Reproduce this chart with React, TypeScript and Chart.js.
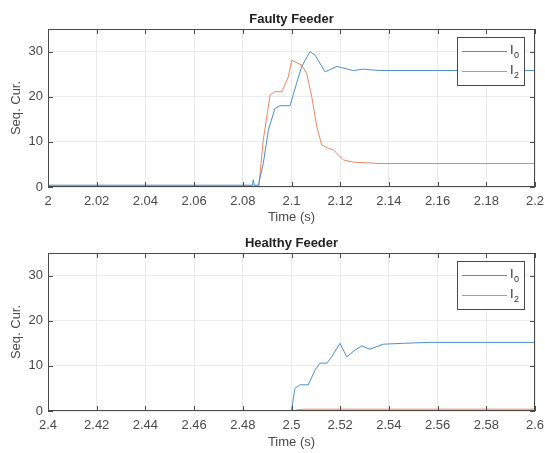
import React, { useEffect, useRef } from "react";
import { Chart, registerables } from "chart.js";
Chart.register(...registerables);

// ---------- data ----------
const faultyI0Time = [2.0, 2.084, 2.0843, 2.0847, 2.0864, 2.0884, 2.0905, 2.0932, 2.0953, 2.0994, 2.1021, 2.1042, 2.1076, 2.1097, 2.1138, 2.1186, 2.1254, 2.1295, 2.1364, 2.2];
const faultyI0 = [0.4, 0.4, 1.6, 0.4, 0.4, 5.2, 12.6, 17.4, 18.0, 18.0, 23.0, 26.7, 30.0, 29.2, 25.5, 26.7, 25.8, 26.1, 25.8, 25.8];
const faultyI2Time = [2.0, 2.0866, 2.0884, 2.0912, 2.0932, 2.096, 2.0987, 2.1001, 2.1042, 2.1062, 2.1083, 2.1104, 2.1124, 2.1151, 2.1172, 2.1213, 2.1254, 2.1364, 2.2];
const faultyI2 = [0.2, 0.2, 10.4, 20.4, 21.1, 21.1, 24.4, 28.1, 27.0, 25.2, 20.0, 13.4, 9.3, 8.6, 8.2, 6.0, 5.5, 5.2, 5.2];

const healthyI0Time = [2.4, 2.5, 2.5014, 2.5035, 2.5069, 2.5097, 2.5117, 2.5145, 2.5165, 2.5199, 2.5227, 2.5261, 2.5288, 2.5322, 2.5377, 2.5459, 2.5569, 2.6];
const healthyI0 = [0.1, 0.1, 5.0, 5.8, 5.8, 9.1, 10.6, 10.6, 12.0, 15.0, 12.0, 13.5, 14.4, 13.7, 14.8, 15.0, 15.2, 15.2];
const healthyI2Time = [2.4, 2.5, 2.505, 2.6];
const healthyI2 = [0.1, 0.1, 0.4, 0.4];

const faultyXTicks = [2, 2.02, 2.04, 2.06, 2.08, 2.1, 2.12, 2.14, 2.16, 2.18, 2.2];
const faultyXLabels = ["2", "2.02", "2.04", "2.06", "2.08", "2.1", "2.12", "2.14", "2.16", "2.18", "2.2"];
const healthyXTicks = [2.4, 2.42, 2.44, 2.46, 2.48, 2.5, 2.52, 2.54, 2.56, 2.58, 2.6];
const healthyXLabels = ["2.4", "2.42", "2.44", "2.46", "2.48", "2.5", "2.52", "2.54", "2.56", "2.58", "2.6"];
const yTicks = [0, 10, 20, 30];
const yLabels = ["0", "10", "20", "30"];

const seriesNames = ["I₀", "I₂"];
const seriesBase = ["I", "I"];
const seriesSub = ["0", "2"];

const titles = ["Faulty Feeder", "Healthy Feeder"];
const xTitle = "Time (s)";
const yTitle = "Seq. Cur.";

// ---------- style ----------
const FONT = "'Liberation Sans', Arial, Helvetica, sans-serif";
const SERIES_COLORS = ["#4a8fcc", "#ec8660"];
const AXIS = "#4a4a4a";
const TEXT = "#4a4a4a";
const GRID = "#ebebeb";

function toPts(t: number[], v: number[]) {
  return t.map((x, i) => ({ x, y: v[i] }));
}

function matlabPlugin(title: string) {
  return {
    id: "matlabDecor",
    afterDraw(chart: any) {
      const { ctx, chartArea: a, scales } = chart;
      const xs = scales.x;
      const ys = scales.y;
      ctx.save();
      ctx.strokeStyle = AXIS;
      ctx.lineWidth = 1;
      ctx.beginPath();
      const tl = 5;
      xs.ticks.forEach((t: any) => {
        const px = Math.round(xs.getPixelForValue(t.value)) + 0.5;
        ctx.moveTo(px, a.bottom);
        ctx.lineTo(px, a.bottom - tl);
        ctx.moveTo(px, a.top);
        ctx.lineTo(px, a.top + tl);
      });
      ys.ticks.forEach((t: any) => {
        const py = Math.round(ys.getPixelForValue(t.value)) + 0.5;
        ctx.moveTo(a.left, py);
        ctx.lineTo(a.left + tl, py);
        ctx.moveTo(a.right, py);
        ctx.lineTo(a.right - tl, py);
      });
      ctx.stroke();
      ctx.strokeRect(a.left + 0.5, a.top + 0.5, a.right - a.left - 1, a.bottom - a.top - 1);

      // legend
      const lw = 67;
      const lh = 48;
      const lx = Math.round(a.right - 11 - lw);
      const ly = Math.round(a.top + 8);
      ctx.fillStyle = "#ffffff";
      ctx.fillRect(lx, ly, lw, lh);
      ctx.strokeStyle = AXIS;
      ctx.strokeRect(lx + 0.5, ly + 0.5, lw, lh);
      for (let i = 0; i < seriesBase.length; i++) {
        const y = ly + 14.5 + i * 20;
        ctx.strokeStyle = SERIES_COLORS[i];
        ctx.lineWidth = 1;
        ctx.beginPath();
        ctx.moveTo(lx + 5, y);
        ctx.lineTo(lx + 50, y);
        ctx.stroke();
        ctx.fillStyle = "#333";
        ctx.textAlign = "left";
        ctx.textBaseline = "middle";
        ctx.font = `13px ${FONT}`;
        ctx.fillText(seriesBase[i], lx + 53, y - 1);
        ctx.font = `9px ${FONT}`;
        ctx.fillText(seriesSub[i], lx + 57, y + 4);
      }

      // title
      ctx.fillStyle = "#222";
      ctx.font = `bold 13px ${FONT}`;
      ctx.textAlign = "center";
      ctx.textBaseline = "middle";
      ctx.fillText(title, (a.left + a.right) / 2, a.top - 10);
      ctx.restore();
    },
  };
}

function makeConfig(
  title: string,
  xTicks: number[],
  xLabels: string[],
  i0: { x: number; y: number }[],
  i2: { x: number; y: number }[],
  padTop: number,
  xAxisHeight: number,
  xTitlePadBottom: number
): any {
  return {
    type: "line",
    data: {
      datasets: [
        { label: seriesNames[0], data: i0, borderColor: SERIES_COLORS[0], borderWidth: 1, pointRadius: 0, tension: 0 },
        { label: seriesNames[1], data: i2, borderColor: SERIES_COLORS[1], borderWidth: 1, pointRadius: 0, tension: 0 },
      ],
    },
    options: {
      animation: false,
      responsive: false,
      devicePixelRatio: 1,
      layout: { padding: { top: padTop, right: 10, left: 0, bottom: 0 } },
      plugins: { legend: { display: false }, title: { display: false }, tooltip: { enabled: false } },
      scales: {
        x: {
          type: "linear",
          min: xTicks[0],
          max: xTicks[xTicks.length - 1],
          afterBuildTicks: (s: any) => {
            s.ticks = xTicks.map((v) => ({ value: v }));
          },
          ticks: {
            autoSkip: false,
            maxRotation: 0,
            padding: 7,
            color: TEXT,
            font: { family: FONT, size: 13 },
            callback: (_v: any, i: number) => xLabels[i],
          },
          grid: { color: GRID, drawTicks: false },
          border: { display: false },
          title: { display: true, text: xTitle, color: TEXT, font: { family: FONT, size: 13 }, padding: { top: 0, bottom: xTitlePadBottom } },
          afterFit: (s: any) => {
            s.height = xAxisHeight;
            s.paddingLeft = 0;
            s.paddingRight = 0;
          },
        },
        y: {
          type: "linear",
          min: 0,
          max: 35,
          afterBuildTicks: (s: any) => {
            s.ticks = yTicks.map((v) => ({ value: v }));
          },
          ticks: {
            padding: 5,
            color: TEXT,
            font: { family: FONT, size: 13 },
            callback: (_v: any, i: number) => yLabels[i],
          },
          grid: { color: GRID, drawTicks: false },
          border: { display: false },
          title: { display: true, text: yTitle, color: TEXT, font: { family: FONT, size: 13 }, padding: { top: 9, bottom: 0 } },
          afterFit: (s: any) => {
            s.width = 48;
            s.paddingTop = 0;
            s.paddingBottom = 0;
          },
        },
      },
    },
    plugins: [matlabPlugin(title)],
  };
}

export default function App() {
  const topRef = useRef<HTMLCanvasElement>(null);
  const botRef = useRef<HTMLCanvasElement>(null);

  useEffect(() => {
    document.body.style.margin = "0";
    const c1 = new Chart(
      topRef.current as HTMLCanvasElement,
      makeConfig(titles[0], faultyXTicks, faultyXLabels, toPts(faultyI0Time, faultyI0), toPts(faultyI2Time, faultyI2), 29, 40, 2)
    );
    const c2 = new Chart(
      botRef.current as HTMLCanvasElement,
      makeConfig(titles[1], healthyXTicks, healthyXLabels, toPts(healthyI0Time, healthyI0), toPts(healthyI2Time, healthyI2), 26, 42, 3)
    );
    return () => {
      c1.destroy();
      c2.destroy();
    };
  }, []);

  return (
    <div style={{ position: "absolute", left: 0, top: 0, width: 545, height: 453, background: "#fff" }}>
      <canvas ref={topRef} width={545} height={227} style={{ position: "absolute", left: 0, top: 0, width: 545, height: 227 }} />
      <canvas ref={botRef} width={545} height={226} style={{ position: "absolute", left: 0, top: 227, width: 545, height: 226 }} />
    </div>
  );
}
